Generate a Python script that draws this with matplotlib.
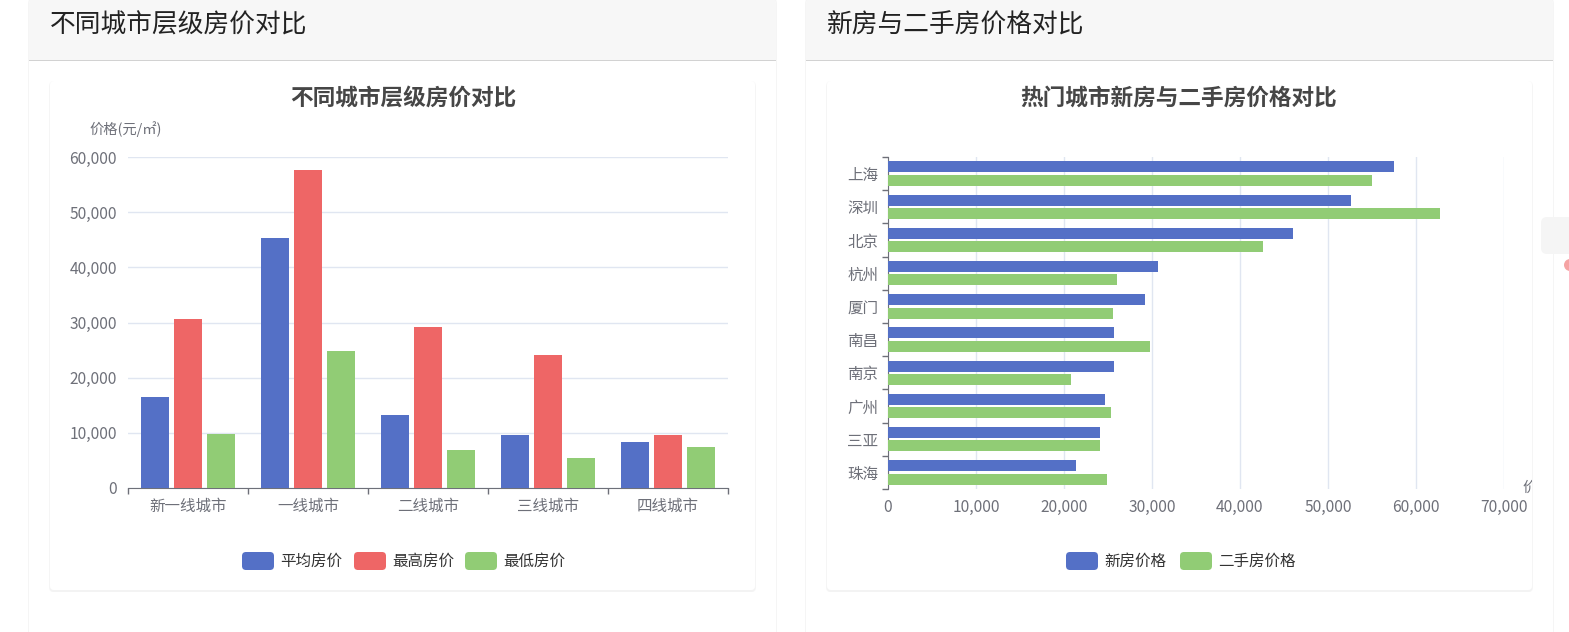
import matplotlib
matplotlib.use("Agg")
import matplotlib.pyplot as plt
from matplotlib.patches import FancyBboxPatch, Rectangle, Circle
from matplotlib.transforms import Affine2D
from matplotlib.ticker import FuncFormatter, FixedLocator, MultipleLocator
import numpy as np

plt.rcParams['font.family'] = ['Noto Sans CJK SC', 'DejaVu Sans']

# left chart: price by city tier
tiers = ["新一线城市", "一线城市", "二线城市", "三线城市", "四线城市"]
avg_price = [16500, 45400, 13200, 9600, 8300]
max_price = [30700, 57600, 29200, 24100, 9600]
min_price = [9700, 24800, 6800, 5400, 7500]

# right chart: new vs second-hand, top to bottom
cities = ["上海", "深圳", "北京", "杭州", "厦门", "南昌", "南京", "广州", "三亚", "珠海"]
new_price = [57500, 52600, 46000, 30700, 29200, 25700, 25700, 24700, 24100, 21400]
used_price = [55000, 62700, 42600, 26000, 25600, 29800, 20800, 25300, 24100, 24900]

BLUE, RED, GREEN = "#5470C6", "#EE6666", "#91CC75"
AXIS = "#6E7079"
GRID = "#E0E6F1"
TICK_FS = 11.2

W, H = 1569, 632
fig = plt.figure(figsize=(W / 100, H / 100), dpi=100)
fig.patch.set_facecolor("white")
# pixel coords, y going down
T = Affine2D().scale(1 / W, -1 / H).translate(0, 1) + fig.transFigure


def box(x, y, w, h):
    return [x / W, 1 - (y + h) / H, w / W, h / H]


def rrect(x, y, w, h, fc, ec="none", r=8, z=-10, lw=1):
    p = FancyBboxPatch((x, y), w, h, boxstyle=f"round,pad=0,rounding_size={r}",
                       fc=fc, ec=ec, lw=lw, transform=T, zorder=z)
    fig.patches.append(p)
    return p


def rect(x, y, w, h, fc, z=-10):
    p = Rectangle((x, y), w, h, fc=fc, ec="none", transform=T, zorder=z)
    fig.patches.append(p)


def card(x0, x1, header):
    w = x1 - x0
    rrect(x0 - 1, -4, w + 2, 650, "#f5f5f5", z=-12)
    rrect(x0, -3, w, 650, "white", z=-11)
    rrect(x0, -3, w, 63, "#f7f7f7", z=-10)
    rect(x0, 40, w, 20, "#f7f7f7", z=-10)
    rect(x0, 60, w, 1, "#d2d2d2", z=-9)
    fig.text(x0 + 21, 26, header, transform=T, fontsize=18.5, color="#222222",
             va="center", ha="left")


def panel(x0, y0, w, h):
    for i, c in enumerate(["#fafafa", "#f6f6f6", "#f3f3f3"]):
        rrect(x0 - 1 + i * 0.3, y0 + i * 0.6, w + 2 - i * 0.6, h + 2 - i * 0.6, c,
              r=5, z=-9 + i * 0.1)
    rrect(x0, y0, w, h, "white", r=4, z=-8)


def legend(items, y):
    for x, label, color in items:
        rrect(x, y - 9, 32, 18, color, r=4, z=5)
        fig.text(x + 38, y, label, transform=T, fontsize=TICK_FS, color="#333333",
                 va="center", ha="left")


card(29, 776, "不同城市层级房价对比")
card(806, 1553, "新房与二手房价格对比")
panel(50, 81, 705, 509)
panel(827, 81, 705, 509)

# bits of the page at the right edge
rrect(1541, 217, 40, 37, "#f5f5f5", r=6, z=-7)
fig.patches.append(Circle((1570, 265), 6, fc="#f5a3a3", ec="none", transform=T, zorder=-6))

thousands = FuncFormatter(lambda v, p: f"{int(v):,}")

# ---- left: grouped bars
ax1 = fig.add_axes(box(128, 157, 600, 331))
ax1.set_facecolor("none")
x = np.arange(len(tiers))
bw = 0.23
for off, vals, col in [(-0.275, avg_price, BLUE), (0, max_price, RED), (0.275, min_price, GREEN)]:
    ax1.bar(x + off, vals, bw, color=col, zorder=3)
ax1.set_xlim(-0.5, len(tiers) - 0.5)
ax1.set_ylim(0, 60000)
ax1.yaxis.set_major_locator(MultipleLocator(10000))
ax1.yaxis.set_major_formatter(thousands)
ax1.set_xticks(x)
ax1.set_xticklabels(tiers)
ax1.xaxis.set_minor_locator(FixedLocator(np.arange(len(tiers) + 1) - 0.5))
ax1.grid(axis="y", color=GRID, lw=1)
ax1.set_axisbelow(True)
for s in ["top", "right", "left"]:
    ax1.spines[s].set_visible(False)
ax1.spines["bottom"].set_color(AXIS)
ax1.tick_params(axis="x", which="major", length=0, pad=7, labelsize=TICK_FS, labelcolor=AXIS)
ax1.tick_params(axis="x", which="minor", length=4, width=1, color=AXIS, direction="out")
ax1.tick_params(axis="y", length=0, pad=8, labelsize=TICK_FS, labelcolor=AXIS)
fig.text(89, 129, "价格(元/㎡)", transform=T, fontsize=10.3, color=AXIS, va="center", ha="left")
fig.text(403, 98, "不同城市层级房价对比", transform=T, fontsize=16.3, fontweight="bold",
         color="#464646", va="center", ha="center")
legend([(242, "平均房价", BLUE), (354, "最高房价", RED), (465, "最低房价", GREEN)], 561)

# ---- right: horizontal bars
ax2 = fig.add_axes(box(888, 157, 616, 332))
ax2.set_facecolor("none")
y = np.arange(len(cities))
ax2.barh(y - 0.2, new_price, 0.33, color=BLUE, zorder=3)
ax2.barh(y + 0.2, used_price, 0.33, color=GREEN, zorder=3)
ax2.set_ylim(len(cities) - 0.5, -0.5)
ax2.set_xlim(0, 70000)
ax2.xaxis.set_major_locator(MultipleLocator(10000))
ax2.xaxis.set_major_formatter(thousands)
ax2.set_yticks(y)
ax2.set_yticklabels(cities)
ax2.yaxis.set_minor_locator(FixedLocator(np.arange(len(cities) + 1) - 0.5))
ax2.grid(axis="x", color=GRID, lw=1)
ax2.set_axisbelow(True)
for s in ["top", "right", "bottom"]:
    ax2.spines[s].set_visible(False)
ax2.spines["left"].set_color(AXIS)
ax2.tick_params(axis="y", which="major", length=0, pad=7, labelsize=TICK_FS, labelcolor=AXIS)
ax2.tick_params(axis="y", which="minor", length=4, width=1, color=AXIS, direction="out")
ax2.tick_params(axis="x", length=0, pad=7, labelsize=TICK_FS, labelcolor=AXIS)
# axis name runs past the chart canvas, which clips it
name = fig.text(1522, 487, "价格(元/㎡)", transform=T, fontsize=10.3, color=AXIS,
                va="center", ha="left")
name.set_clip_path(Rectangle((827, 81), 705, 509, transform=T))
fig.text(1179, 98, "热门城市新房与二手房价格对比", transform=T, fontsize=16.3, fontweight="bold",
         color="#464646", va="center", ha="center")
legend([(1066, "新房价格", BLUE), (1180, "二手房价格", GREEN)], 561)

fig.savefig("out.png", dpi=100, facecolor="white")
